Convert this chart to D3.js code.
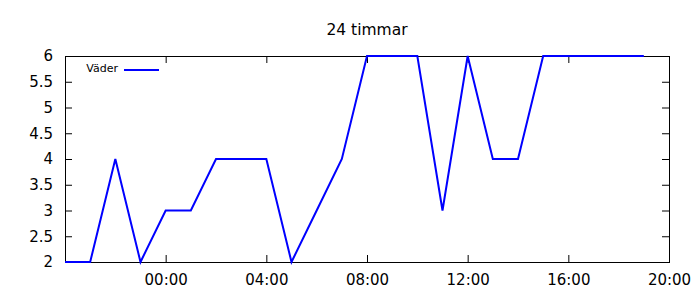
<!DOCTYPE html>
<html>
<head>
<meta charset="utf-8">
<script src="https://cdn.jsdelivr.net/npm/d3@7"></script>
<style>
  html, body { margin: 0; padding: 0; background: #fff; }
  svg { display: block; font-family: "DejaVu Sans", sans-serif; }
</style>
</head>
<body>
<div id="chart"></div>
<script>
// ---- data ----
const title = "24 timmar";
const seriesName = "Väder";
const times = [
  "2024-01-01 20:00","2024-01-01 21:00","2024-01-01 22:00","2024-01-01 23:00",
  "2024-01-02 00:00","2024-01-02 01:00","2024-01-02 02:00","2024-01-02 03:00",
  "2024-01-02 04:00","2024-01-02 05:00","2024-01-02 06:00","2024-01-02 07:00",
  "2024-01-02 08:00","2024-01-02 09:00","2024-01-02 10:00","2024-01-02 11:00",
  "2024-01-02 12:00","2024-01-02 13:00","2024-01-02 14:00","2024-01-02 15:00",
  "2024-01-02 16:00","2024-01-02 17:00","2024-01-02 18:00","2024-01-02 19:00"
];
const values = [2,2,4,2,3,3,4,4,4,2,3,4,6,6,6,3,6,4,4,6,6,6,6,6];
const xDomain = ["2024-01-01 20:00","2024-01-02 20:00"];
const xTicks = ["2024-01-02 00:00","2024-01-02 04:00","2024-01-02 08:00","2024-01-02 12:00","2024-01-02 16:00","2024-01-02 20:00"];
const yDomain = [2, 6];
const yTicks = [2, 2.5, 3, 3.5, 4, 4.5, 5, 5.5, 6];
const yTickLabels = ["2","2.5","3","3.5","4","4.5","5","5.5","6"];

// ---- layout ----
const W = 700, H = 300;
const margin = {top: 56, right: 31, bottom: 38, left: 65};
const iw = W - margin.left - margin.right;
const ih = H - margin.top - margin.bottom;
const parse = d3.timeParse("%Y-%m-%d %H:%M");
const data = times.map((t, i) => ({t: parse(t), v: values[i]}));

const svg = d3.select("#chart").append("svg").attr("width", W).attr("height", H);
const g = svg.append("g").attr("transform", `translate(${margin.left},${margin.top})`);

const x = d3.scaleTime().domain(xDomain.map(parse)).range([0, iw]);
const y = d3.scaleLinear().domain(yDomain).range([ih, 0]);
const tickDates = xTicks.map(parse);
const fontSize = 15;

// axes
const xb = g.append("g").attr("transform", `translate(0,${ih})`)
  .call(d3.axisBottom(x).tickValues(tickDates).tickFormat(d3.timeFormat("%H:%M"))
    .tickSizeInner(-7).tickSizeOuter(0).tickPadding(12));
const yl = g.append("g")
  .call(d3.axisLeft(y).tickValues(yTicks).tickFormat((d, i) => yTickLabels[i])
    .tickSizeInner(-7).tickSizeOuter(0).tickPadding(12));
const xt = g.append("g")
  .call(d3.axisTop(x).tickValues(tickDates).tickFormat("").tickSizeInner(-7).tickSizeOuter(0));
const yr = g.append("g").attr("transform", `translate(${iw},0)`)
  .call(d3.axisRight(y).tickValues(yTicks).tickFormat("").tickSizeInner(-7).tickSizeOuter(0));
[xb, yl, xt, yr].forEach(a => {
  a.select(".domain").remove();
  a.selectAll("line").attr("stroke", "#000").attr("stroke-width", 1);
  a.selectAll("text").attr("font-family", "DejaVu Sans, sans-serif")
    .attr("font-size", fontSize).attr("fill", "#000");
});

// border
g.append("rect").attr("x", 0.5).attr("y", 0.5).attr("width", iw).attr("height", ih)
  .attr("fill", "none").attr("stroke", "#000").attr("stroke-width", 1);

// line
const line = d3.line().x(d => x(d.t)).y(d => y(d.v));
g.append("path").datum(data).attr("d", line)
  .attr("fill", "none").attr("stroke", "#0000ff").attr("stroke-width", 2)
  .attr("stroke-linejoin", "miter");

// title
svg.append("text").attr("x", margin.left + iw / 2).attr("y", 35)
  .attr("text-anchor", "middle").attr("font-size", 15.5).attr("fill", "#000").text(title);

// legend
g.append("text").attr("x", 118 - margin.left).attr("y", 72 - margin.top)
  .attr("text-anchor", "end").attr("font-size", 11).attr("fill", "#000").text(seriesName);
g.append("line").attr("x1", 124 - margin.left).attr("x2", 159 - margin.left)
  .attr("y1", 70 - margin.top).attr("y2", 70 - margin.top)
  .attr("stroke", "#0000ff").attr("stroke-width", 2);
</script>
</body>
</html>
